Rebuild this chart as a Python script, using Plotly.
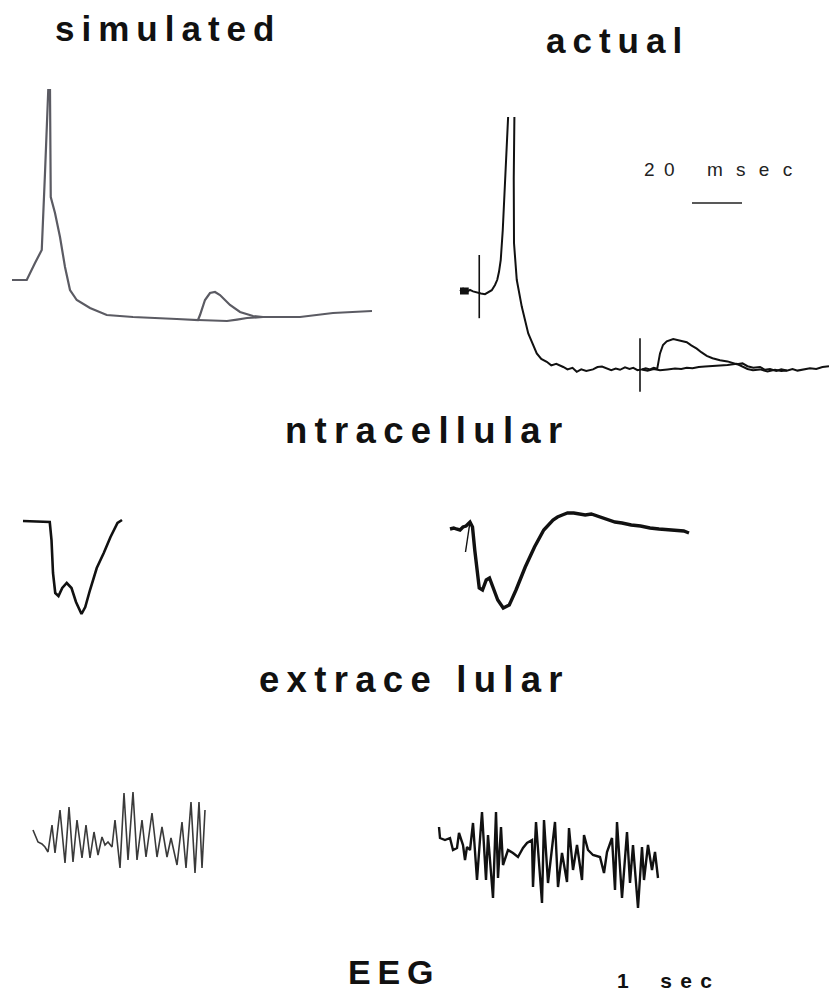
import plotly.graph_objects as go

W, H = 829, 993

# ---------------- data ----------------
# simulated intracellular (ms, mV)
sim_ic_t = [0, 5.9, 9.2, 11.5, 11.9, 13.2, 13.9, 14.5, 15.2, 15.5, 15.5, 17.2, 19.2, 21.2, 23.2,
            25.9, 31.2, 37.9, 48.4, 65.9, 74.4, 75.2, 77.2, 79.2, 81.2, 83.2, 87.2, 91.2, 96.4,
            100.4, 115.2, 128.4, 144]
sim_ic_v = [-60, -60, -51.5, -46, -45, -6.5, 15, 35, 35, 6.5, -18.5, -26.5, -38.5, -53.5, -65,
            -70, -74, -77.5, -78.5, -79.5, -80, -77.5, -70, -66.5, -66, -67.5, -72.5, -76, -78,
            -78.5, -78.5, -76.5, -75.5]
sim_ic_flat_t = [74.4, 80, 86, 90, 94, 100.4]
sim_ic_flat_v = [-80, -80.4, -80.5, -79.8, -79, -78.5]

# actual intracellular (ms, mV)
act_ic_t = [0, 1.2, 2.4, 4, 5.2, 6.7, 8.4, 10, 11.2, 12.7, 14, 14.9, 15.6, 16.3, 17.1, 18, 18.9,
            19.6, 20.2, 20.8, 21.4, 21.8, 21.5, 21.6, 22.7, 24.7, 27.3, 30.7, 32.5, 34.7, 36.5,
            38.5, 41.3, 43, 45, 46.7, 48.5, 50.5, 53.2, 55, 56.8, 58.7, 60.5, 62.3, 64, 66, 67.8,
            69.3, 71, 72.7, 74.3, 76, 77.5, 78.9, 80, 81.2, 82.7, 85.3, 88, 90.7, 92.5, 94.7,
            96.5, 98.7, 101, 104, 107, 110.7, 113, 115, 117.3, 120, 122, 124, 126.5, 128.5,
            130.7, 133, 135, 137.3, 140, 142.5, 145, 147.6]
act_ic_v = [-60, -59.4, -60.3, -59.7, -60.1, -60.4, -60.6, -60.8, -60.4, -59.8, -58.5, -57.2,
            -55.2, -52.2, -44.8, -32.2, -22.2, -12, 0, 4, 0, -14, -32, -48, -57.2, -63.9, -70.6,
            -75.6, -77, -77.7, -78.6, -78.2, -79, -79.6, -79.2, -80.2, -79.6, -80, -79.6, -79,
            -78.9, -79.3, -79.8, -79.4, -79.7, -79.1, -79.5, -79.2, -79.8, -79.6, -79.3, -79.6,
            -79.2, -79.4, -75.6, -73.5, -72.6, -72, -72.4, -72.8, -73.6, -74.4, -75.3, -76.2,
            -76.8, -77.3, -77.6, -78.3, -78.1, -78.8, -79.2, -79.0, -79.7, -79.5, -80.0, -79.6,
            -79.9, -79.5, -79.9, -79.7, -79.3, -79.5, -79.0, -78.8]
act_ic_flat_t = [72.7, 75, 77.5, 80, 83, 86, 88.5, 90.7, 93, 95.5, 98, 101.3, 104, 107, 110.7,
                 113, 115, 117.2, 120, 123, 126, 128.5, 130.7]
act_ic_flat_v = [-79.6, -79.9, -79.5, -79.8, -79.6, -79.4, -79.5, -79.2, -79.3, -79.0, -78.9,
                 -78.8, -78.6, -78.5, -78.2, -78.9, -79.5, -79.8, -79.6, -80.1, -79.7, -80.0, -79.9]
act_ic_blob_t = [0, 3.5]
act_ic_blob_v = [-60, -60]
stim1_t = [7.7, 7.7]
stim1_v = [-51, -66.8]
stim2_t = [72, 72]
stim2_v = [-71.8, -85.2]
bar20_t = [92.8, 112.8]   # 20 msec scale bar
bar20_v = [-38, -38]

# simulated extracellular (ms, mV)
sim_ec_t = [0, 10.7, 11.4, 12, 12.9, 14.2, 15.7, 17.5, 19.4, 21.2, 23.4, 24.9, 26.8, 29.5, 32.3,
            35, 37.8, 39.6]
sim_ec_v = [0, -0.01, -0.19, -0.52, -0.72, -0.75, -0.67, -0.62, -0.67, -0.81, -0.93, -0.86,
            -0.69, -0.47, -0.32, -0.16, -0.02, 0.01]

# actual extracellular (ms, mV)
act_ec_t = [0, 1.5, 2.5, 4, 5.2, 6.4, 8, 9, 9.9, 10.8, 11.7, 13, 14.5, 15.8, 17.2, 19.1, 21.3,
            23.7, 26.4, 30.1, 33.8, 37.5, 41.2, 43, 44.9, 47, 49.5, 51.5, 54.1, 56.5, 58.7, 61,
            63.3, 66, 68.8, 72.5, 76.2, 80, 83.6, 87.5, 91, 93.5, 95.6]
act_ec_v = [0, 0.01, 0.0, -0.01, 0.02, 0.03, 0.07, 0.02, -0.21, -0.44, -0.59, -0.61, -0.51,
            -0.49, -0.58, -0.71, -0.79, -0.76, -0.61, -0.38, -0.18, -0.01, 0.09, 0.12, 0.14,
            0.16, 0.16, 0.15, 0.14, 0.15, 0.13, 0.11, 0.09, 0.07, 0.06, 0.04, 0.03, 0.01, 0.0,
            -0.01, -0.02, -0.02, -0.04]
act_ec_art_t = [8, 6.2]
act_ec_art_v = [0.07, -0.23]

# EEG (ms, uV)
sim_eeg_t = [0, 50, 90, 120, 150, 190, 220, 270, 320, 360, 400, 440, 490, 530, 570, 610, 650,
             690, 720, 750, 790, 820, 870, 910, 950, 1000, 1040, 1090, 1130, 1190, 1240, 1290,
             1340, 1380, 1440, 1490, 1530, 1580, 1620, 1660, 1690, 1720]
sim_eeg_v = [13, 1, -1, -4, -9, 18, -10, 33, -20, 36, -19, 23, -15, 18, -15, 11, -12, 6, -2, 1,
             -4, 23, -25, 50, -17, 51, -17, 23, -14, 30, -14, 16, -14, 5, -22, 21, -25, 41, -30,
             41, -25, 33]
act_eeg_t = [0, 10, 60, 110, 140, 180, 200, 240, 260, 280, 310, 340, 380, 430, 470, 490, 540,
             570, 590, 620, 640, 690, 740, 790, 840, 880, 930, 940, 970, 1030, 1050, 1090, 1160,
             1190, 1230, 1280, 1300, 1340, 1380, 1430, 1450, 1490, 1540, 1610, 1650, 1680, 1730,
             1760, 1780, 1830, 1880, 1910, 1940, 1990, 2030, 2050, 2090, 2130, 2160, 2190]
act_eeg_v = [16, 5, 3, 5, -7, -5, 10, -2, -17, -4, -7, 20, -37, 31, -37, 8, -55, 31, -35, 16,
             -22, -7, -10, -14, -5, 0, 3, -44, 21, -60, 23, -40, 21, -44, -10, -39, 15, -27, -2,
             -37, 8, -7, -12, -14, -30, -9, 5, -47, 21, -55, 11, -40, -2, -65, -4, -37, -2, -27,
             -9, -35]

# ---------------- layout of panels (pixel box, pixel of data origin, px per unit) --------
panels = [
    ("sim_ic", (0, 400, 60, 345), (12, 160), (2.5, 2)),
    ("act_ic", (430, 829, 117, 400), (460, 51), (2.5, 4)),
    ("sim_ec", (0, 200, 495, 640), (23, 521), (2.5, 100)),
    ("act_ec", (420, 720, 495, 640), (450, 529), (2.5, 100)),
    ("sim_eeg", (0, 260, 770, 930), (33, 843), (0.1, 1)),
    ("act_eeg", (420, 700, 770, 930), (439, 843), (0.1, 1)),
]

fig = go.Figure()
layout = dict(width=W, height=H, margin=dict(l=0, r=0, t=0, b=0),
              paper_bgcolor="white", plot_bgcolor="white", showlegend=False)
axis_of = {}
for i, (name, (x0, x1, y0, y1), (rx, ry), (sx, sy)) in enumerate(panels, start=1):
    xa = "xaxis" if i == 1 else f"xaxis{i}"
    ya = "yaxis" if i == 1 else f"yaxis{i}"
    xr = "x" if i == 1 else f"x{i}"
    yr = "y" if i == 1 else f"y{i}"
    layout[xa] = dict(domain=[x0 / W, x1 / W], range=[(x0 - rx) / sx, (x1 - rx) / sx],
                      visible=False, fixedrange=True, anchor=yr)
    layout[ya] = dict(domain=[1 - y1 / H, 1 - y0 / H], range=[(ry - y1) / sy, (ry - y0) / sy],
                      visible=False, fixedrange=True, anchor=xr)
    axis_of[name] = (xr, yr)


def add(name, t, v, color, width):
    xr, yr = axis_of[name]
    fig.add_trace(go.Scatter(x=t, y=v, mode="lines", xaxis=xr, yaxis=yr,
                             line=dict(color=color, width=width, shape="linear"),
                             hoverinfo="skip"))


GRAY = "#5b5b63"
add("sim_ic", sim_ic_flat_t, sim_ic_flat_v, GRAY, 2.2)
add("sim_ic", sim_ic_t, sim_ic_v, GRAY, 2.2)

add("act_ic", act_ic_flat_t, act_ic_flat_v, "#111", 2.0)
add("act_ic", act_ic_t, act_ic_v, "#111", 2.0)
add("act_ic", act_ic_blob_t, act_ic_blob_v, "#111", 7)
add("act_ic", stim1_t, stim1_v, "#111", 1.6)
add("act_ic", stim2_t, stim2_v, "#111", 1.6)
add("act_ic", bar20_t, bar20_v, "#222", 1.6)

add("sim_ec", sim_ec_t, sim_ec_v, "#111", 2.6)
add("act_ec", act_ec_t, act_ec_v, "#111", 3.4)
add("act_ec", act_ec_art_t, act_ec_art_v, "#111", 1.4)

add("sim_eeg", sim_eeg_t, sim_eeg_v, "#3a3a3a", 1.6)
add("act_eeg", act_eeg_t, act_eeg_v, "#111", 2.4)

FONT = "Liberation Sans, Arial, sans-serif"
T = "\u2009"


def spaced(s):
    return T.join(list(s))


labels = [
    ("<b>" + spaced("simulated") + "</b>", 164, 28, 35, "#111"),
    ("<b>" + spaced("actual") + "</b>", 614, 40, 35, "#111"),
    ("<b>" + spaced("ntracellular") + "</b>", 423, 430, 36.5, "#111"),
    ("<b>" + spaced("extrace") + "\u2002" + T + spaced("lular") + "</b>", 411, 679, 36.5, "#111"),
    ("<b>" + spaced("EEG") + "</b>", 390, 972, 34, "#111"),
    ("<b>1\u2003\u2002s\u2009\u2009e\u2009\u2009c</b>", 664, 980, 21, "#111"),
    ("2\u20020\u2003\u2002\u2009m\u2002\u2009s\u2002\u2009e\u2002\u2009c", 718, 170, 19, "#222"),
]
ann = []
for text, px, py, fs, col in labels:
    ann.append(dict(text=text, x=px / W, y=1 - py / H, xref="paper", yref="paper",
                    showarrow=False, xanchor="center", yanchor="middle",
                    font=dict(family=FONT, size=fs, color=col)))
layout["annotations"] = ann
fig.update_layout(**layout)
fig.write_html("out.html", config={"displayModeBar": False},
               post_script="document.body.style.margin='0';document.body.style.overflow='hidden';")
